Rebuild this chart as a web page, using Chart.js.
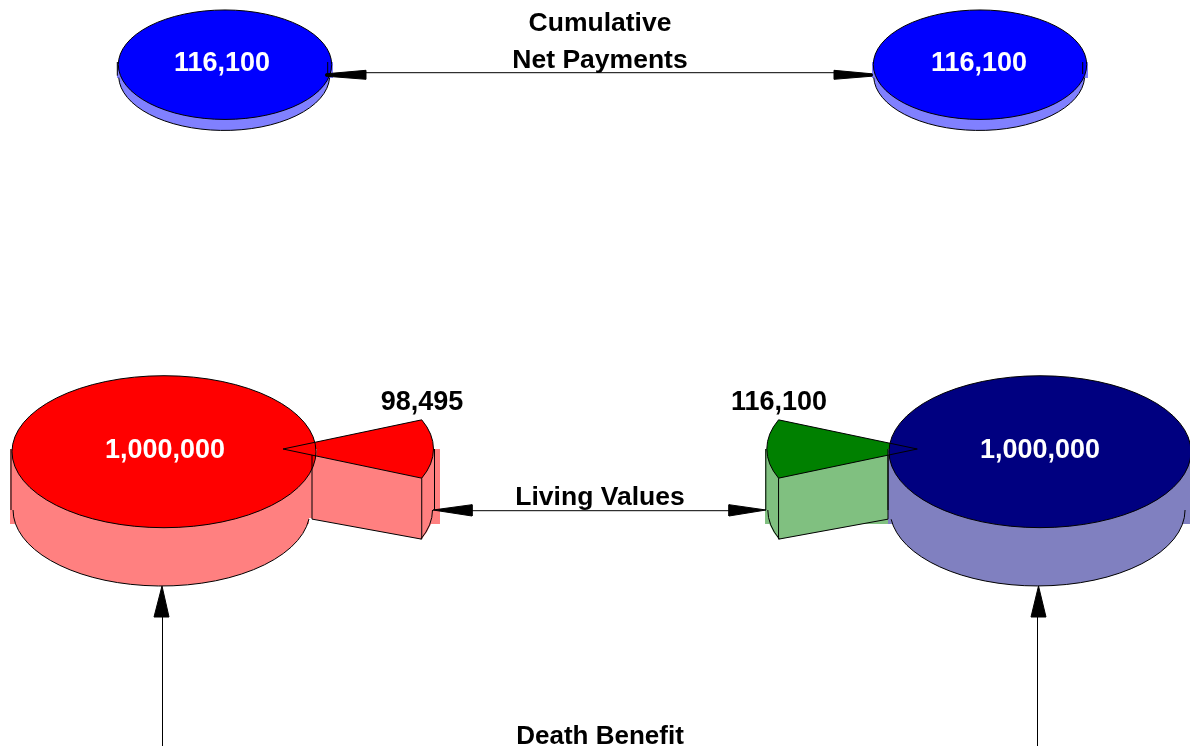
<!DOCTYPE html>
<html>
<head>
<meta charset="utf-8">
<title>Cumulative Net Payments, Living Values and Death Benefit</title>
<script src="https://cdn.jsdelivr.net/npm/chart.js@4"></script>
<style>
  html, body { margin: 0; background: #fff; overflow: hidden; }
  #stage { position: relative; width: 1190px; height: 746px; }
  #stage canvas { position: absolute; left: 0; top: 0; }
</style>
</head>
<body>
<div id="stage"></div>
<script>
// Values shown by the discs and wedges
const paymentsLeft = [116100];
const paymentsRight = [116100];
const deathBenefitLeft = [1000000];
const deathBenefitRight = [1000000];
const livingValueLeft = [98495];
const livingValueRight = [116100];

// Captions
const headingLines = ['Cumulative', 'Net Payments'];
const livingCaption = 'Living Values';
const deathCaption = 'Death Benefit';

const fmt = v => v.toLocaleString('en-US');
const WIDTH = 1190, HEIGHT = 746;
const WEDGE_SWEEP = 45.6;

// Placement of each tilted disc
const discs = {
  payLeft:  { cx: 225,  cy: 64.7,  r: 106.7, flatten: 0.513, depth: 11, inset: 1.2, fill: '#0000ff', wall: '#8080ff',
              backdrops: [[117, 62, 333, 78, '#8080ff']], leftEdge: true, arcFrom: 2, arcTo: 178, tick: 327.7 },
  payRight: { cx: 980,  cy: 64.7,  r: 106.7, flatten: 0.513, depth: 11, inset: 1.2, fill: '#0000ff', wall: '#8080ff',
              backdrops: [[872, 62, 1088, 78, '#8080ff']], arcFrom: 2, arcTo: 178, tick: 1082.7 },
  redDisc:  { cx: 164,  cy: 451.7, r: 152,   flatten: 0.5,   depth: 58.3, inset: 3.5, fill: '#ff0000', wall: '#ff8080',
              backdrops: [], leftEdge: true, arcFrom: 6.8, arcTo: 180 },
  navyDisc: { cx: 1040, cy: 451.7, r: 151,   flatten: 0.503, depth: 58.3, inset: 3.5, fill: '#000080', wall: '#8080c0',
              backdrops: [[888, 449, 1190, 524, '#8080c0']], leftEdge: true, arcFrom: 0, arcTo: 173 }
};

// Placement of each pulled-out wedge
const wedges = {
  red:   { cx: 283,   cy: 449, r: 150.5, flatten: 0.5, depth: 61, innerDepth: 64, mid: 90,  wallX: 312, fill: '#ff0000', wall: '#ff8080',
           backdrops: [[10, 449, 312, 518, '#ff8080'], [10, 518, 309, 524, '#ff8080'], [421, 449, 440, 524, '#ff8080']] },
  green: { cx: 917.3, cy: 449, r: 150.5, flatten: 0.5, depth: 61, innerDepth: 64, mid: 270, wallX: 888, fill: '#008000', wall: '#80c080',
           backdrops: [[765, 449, 888, 524, '#80c080']] }
};

const toRad = d => d * Math.PI / 180;

function paintBackdrops(ctx, list) {
  list.forEach(([x0, y0, x1, y1, colour]) => {
    ctx.fillStyle = colour;
    ctx.fillRect(x0, y0, x1 - x0, y1 - y0);
  });
}

function paintDiscWall(ctx, d) {
  const leftX = d.cx - d.r - 1, rightX = d.cx + d.r + 1;
  const lowX = d.cx - d.inset * 0.7, lowY = d.cy + d.depth, rx = d.r - d.inset, ry = d.r * d.flatten;
  paintBackdrops(ctx, d.backdrops);
  ctx.fillStyle = d.wall;
  ctx.beginPath();
  ctx.moveTo(leftX, d.cy - 2.7);
  ctx.lineTo(leftX, lowY);
  ctx.ellipse(lowX, lowY, rx, ry, 0, Math.PI, 0, true);
  ctx.lineTo(rightX, d.cy - 2.7);
  ctx.closePath();
  ctx.fill();
  ctx.strokeStyle = '#000';
  ctx.lineWidth = 1;
  if (d.leftEdge) {
    ctx.beginPath();
    ctx.moveTo(leftX, d.cy - 2.7);
    ctx.lineTo(leftX, lowY);
    ctx.stroke();
  }
  ctx.beginPath();
  ctx.ellipse(lowX, lowY, rx, ry, 0, toRad(d.arcFrom), toRad(d.arcTo));
  ctx.stroke();
}

function wedgeShape(w) {
  const half = toRad(WEDGE_SWEEP / 2), mid = toRad(w.mid - 90);
  const ry = w.r * w.flatten;
  const front = mid + (Math.cos(mid) > 0 ? half : -half);
  const back = mid + (Math.cos(mid) > 0 ? -half : half);
  const point = t => [w.cx + w.r * Math.cos(t), w.cy + ry * Math.sin(t)];
  const [fx, fy] = point(front);
  const [bx, by] = point(back);
  const slope = (fy - w.cy) / (fx - w.cx);
  const dxWall = w.wallX - w.cx;
  const upperY = w.cy + dxWall * slope;
  const lowerY = w.cy + w.innerDepth + dxWall * slope;
  const outerX = w.cx + Math.cos(mid) * w.r;
  return { mid, ry, front, back, fx, fy, bx, by, upperY, lowerY, outerX, ccw: Math.cos(mid) > 0 };
}

function paintWedgeWall(ctx, w) {
  const s = wedgeShape(w);
  paintBackdrops(ctx, w.backdrops);
  ctx.fillStyle = w.wall;
  ctx.beginPath();
  ctx.moveTo(w.wallX, s.upperY);
  ctx.lineTo(s.fx, s.fy);
  ctx.lineTo(s.fx, s.fy + w.depth);
  ctx.lineTo(w.wallX, s.lowerY);
  ctx.closePath();
  ctx.fill();
  ctx.beginPath();
  ctx.ellipse(w.cx, w.cy, w.r, s.ry, 0, s.front, s.mid, s.ccw);
  ctx.lineTo(s.outerX, w.cy + w.depth);
  ctx.ellipse(w.cx, w.cy + w.depth, w.r, s.ry, 0, s.mid, s.front, !s.ccw);
  ctx.closePath();
  ctx.fill();
}

function strokeWedge(ctx, w) {
  const s = wedgeShape(w);
  const side = Math.cos(s.mid) > 0 ? 1 : -1;
  ctx.strokeStyle = '#000';
  ctx.lineWidth = 1;
  ctx.beginPath();
  ctx.moveTo(s.bx, s.by);
  ctx.lineTo(w.cx, w.cy);
  ctx.lineTo(s.fx, s.fy);
  ctx.stroke();
  ctx.beginPath();
  ctx.ellipse(w.cx, w.cy, w.r, s.ry, 0, s.back, s.front, side < 0);
  ctx.stroke();
  // wall edges
  ctx.beginPath();
  ctx.moveTo(s.fx, s.fy);
  ctx.lineTo(s.fx, s.fy + w.depth);
  ctx.lineTo(w.wallX, s.lowerY);
  ctx.lineTo(w.wallX, s.upperY);
  ctx.moveTo(s.outerX + side, w.cy);
  ctx.lineTo(s.outerX + side, w.cy + w.depth);
  ctx.stroke();
  ctx.beginPath();
  ctx.ellipse(w.cx, w.cy + w.depth, w.r - 1, s.ry, 0, s.front, s.mid, s.ccw);
  ctx.stroke();
}

// Lays the library's arcs onto an ellipse and extrudes their side walls
const tiltPlugin = {
  id: 'tilt',
  beforeDatasetsDraw(chart, _args, opts) {
    const ctx = chart.ctx, arc = chart.getDatasetMeta(0).data[0];
    ctx.save();
    if (opts.kind === 'disc') paintDiscWall(ctx, opts.shape);
    else paintWedgeWall(ctx, opts.shape);
    ctx.translate(opts.shape.cx, opts.shape.cy);
    ctx.scale(1, opts.shape.flatten);
    ctx.translate(-arc.x, -arc.y);
  },
  afterDatasetsDraw(chart, _args, opts) {
    const ctx = chart.ctx;
    ctx.restore();
    if (opts.kind === 'disc') {
      const d = opts.shape;
      ctx.save();
      ctx.strokeStyle = '#000';
      ctx.lineWidth = 1;
      ctx.beginPath();
      ctx.ellipse(d.cx, d.cy, d.r, d.r * d.flatten, 0, 0, Math.PI * 2);
      ctx.stroke();
      if (d.tick) {
        ctx.beginPath();
        ctx.moveTo(d.tick, d.cy - 2.7);
        ctx.lineTo(d.tick, d.cy + 9.3);
        ctx.stroke();
      }
      ctx.restore();
    }
  }
};

const stage = document.getElementById('stage');
function addCanvas() {
  const c = document.createElement('canvas');
  c.width = WIDTH; c.height = HEIGHT;
  c.style.width = WIDTH + 'px'; c.style.height = HEIGHT + 'px';
  stage.appendChild(c);
  return c;
}

function addPie(values, label, shape, kind) {
  const sweep = kind === 'wedge' ? WEDGE_SWEEP : 360;
  const start = kind === 'wedge' ? shape.mid - WEDGE_SWEEP / 2 : 0;
  return new Chart(addCanvas(), {
    type: 'pie',
    data: {
      labels: [label],
      datasets: [{ data: values, backgroundColor: [shape.fill], borderWidth: 0, clip: false }]
    },
    options: {
      responsive: false,
      animation: false,
      devicePixelRatio: 1,
      events: [],
      rotation: start,
      circumference: sweep,
      radius: shape.r,
      layout: { padding: 0 },
      plugins: { legend: { display: false }, tooltip: { enabled: false }, tilt: { kind, shape } }
    },
    plugins: [tiltPlugin]
  });
}

addPie(paymentsLeft, headingLines.join(' '), discs.payLeft, 'disc');
addPie(paymentsRight, headingLines.join(' '), discs.payRight, 'disc');
addPie(livingValueLeft, livingCaption, wedges.red, 'wedge');
addPie(deathBenefitLeft, deathCaption, discs.redDisc, 'disc');
addPie(livingValueRight, livingCaption, wedges.green, 'wedge');
addPie(deathBenefitRight, deathCaption, discs.navyDisc, 'disc');

// Connector arrows: shaft ends, then the corners of each head
const arrowShafts = [
  [[366, 72.7], [834, 72.7]],
  [[472, 510.7], [729, 510.7]],
  [[162.5, 617], [162.5, 746]],
  [[1037.5, 617], [1037.5, 746]]
];
const arrowHeads = [
  [[326, 73.8], [326, 76.2], [366, 79.3], [366, 70.3]],
  [[872, 73.8], [872, 76.2], [834, 79.3], [834, 70.3]],
  [[433, 510], [472, 504.7], [472, 516]],
  [[766, 510], [729, 504.7], [729, 516]],
  [[162, 586], [154, 617], [169, 617]],
  [[1038.5, 586], [1031, 617], [1046, 617]]
];

const toPoints = list => list.map(([x, y]) => ({ x, y }));

// Text placed by centre x and baseline y, with its size in pixels
const textItems = [
  [headingLines[0], 600, 31, '#000', 26.5],
  [headingLines[1], 600, 68, '#000', 26.5],
  [fmt(paymentsLeft[0]), 222, 71, '#fff', 27],
  [fmt(paymentsRight[0]), 979, 71, '#fff', 27],
  [fmt(deathBenefitLeft[0]), 165, 457.5, '#fff', 27],
  [fmt(deathBenefitRight[0]), 1040, 457.5, '#fff', 27],
  [fmt(livingValueLeft[0]), 422, 409.5, '#000', 27],
  [fmt(livingValueRight[0]), 779, 409.5, '#000', 27],
  [livingCaption, 600, 505, '#000', 26.5],
  [deathCaption, 600, 744, '#000', 26]
];

new Chart(addCanvas(), {
  type: 'scatter',
  data: {
    datasets: [
      ...arrowShafts.map(s => ({
        data: toPoints(s), showLine: true, borderColor: '#000', borderWidth: 1, pointRadius: 0, clip: false
      })),
      ...arrowHeads.map(h => ({
        data: toPoints([...h, h[0]]), showLine: true, fill: 'shape', backgroundColor: '#000',
        borderColor: '#000', borderWidth: 1, pointRadius: 0, clip: false
      }))
    ]
  },
  options: {
    responsive: false,
    animation: false,
    devicePixelRatio: 1,
    events: [],
    layout: { padding: 0 },
    scales: {
      x: { type: 'linear', min: 0, max: WIDTH, display: false },
      y: { type: 'linear', min: 0, max: HEIGHT, reverse: true, display: false }
    },
    plugins: { legend: { display: false }, tooltip: { enabled: false } }
  },
  plugins: [{
    id: 'overlayMarks',
    beforeDatasetsDraw(chart) {
      strokeWedge(chart.ctx, wedges.red);
      strokeWedge(chart.ctx, wedges.green);
    },
    afterDraw(chart) {
      const ctx = chart.ctx, { x, y } = chart.scales;
      ctx.save();
      ctx.textAlign = 'center';
      ctx.textBaseline = 'alphabetic';
      textItems.forEach(([text, tx, ty, colour, size]) => {
        ctx.font = `bold ${size}px "Liberation Sans", Arial, sans-serif`;
        ctx.fillStyle = colour;
        ctx.fillText(text, x.getPixelForValue(tx), y.getPixelForValue(ty));
      });
      ctx.restore();
    }
  }]
});
</script>
</body>
</html>
